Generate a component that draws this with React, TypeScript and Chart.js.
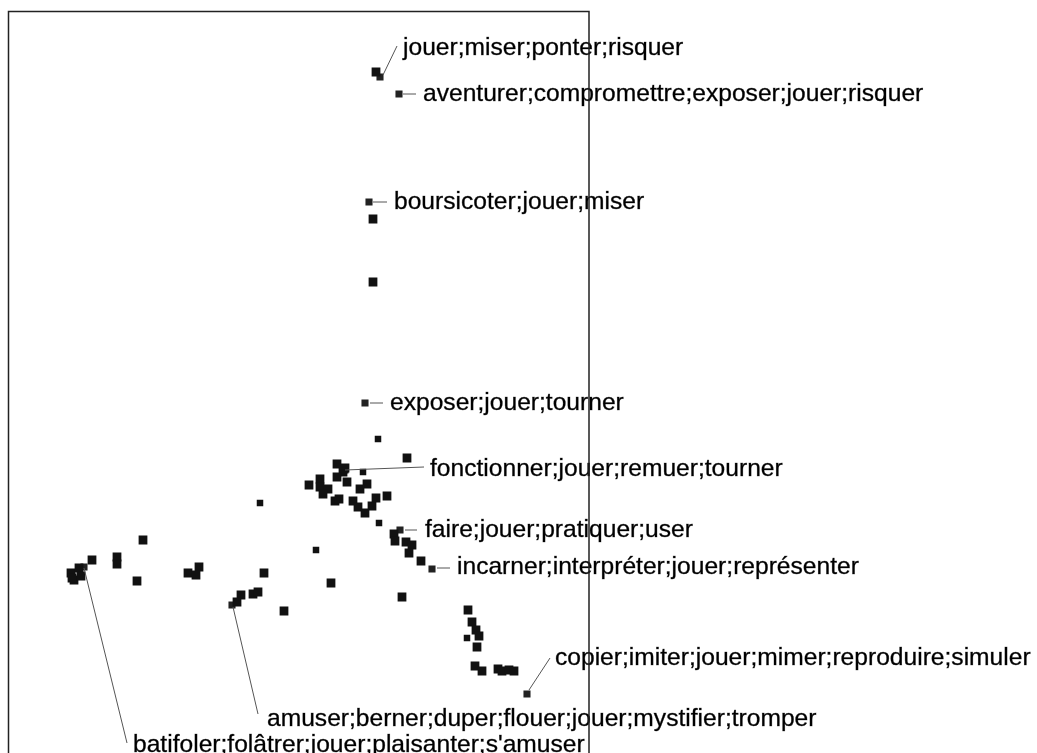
import React, { useEffect, useRef } from "react";
import { Chart, registerables } from "chart.js";

Chart.register(...registerables);

// Factorial map coordinates (axis 1 = x, axis 2 = y)
const pointsX = [
  0.76, 0.73, 0.73, 1.07, 0.37, 0.45, 0.43, 0.37, 0.47, 0.67, 0.6, 0.09, 0.2, 0.2, 0.28, 0.23,
  0.35, 0.39, 0.53, 0.58, 0.65, 0.72, 0.76, 0.87, 0.94, 0.95, 1.06, 1.12, 1.09, 1.21, 1.02,
  -1.57, -2.08, -1.83, -1.83, -1.63, -2.29, -2.26, -2.21, -2.19, -2.28, -1.12, -1.01, -1.04,
  -0.36, 0.31, -0.47, -0.42, -0.59, -0.63, -0.16, 1.68, 1.72, 1.76, 1.79, 1.77, 1.75, 1.82,
  1.98, 2.02, 2.09, 2.14,
];
const pointsY = [
  3.28, 1.81, 1.18, -0.58, -0.64, -0.68, -0.72, -0.77, -0.82, -0.84, -0.89, -0.85, -0.79, -0.87,
  -0.89, -0.94, -1.01, -0.99, -1.01, -1.07, -1.13, -1.06, -0.98, -0.96, -1.34, -1.41, -1.42,
  -1.45, -1.53, -1.61, -1.97, -1.4, -1.6, -1.57, -1.64, -1.81, -1.73, -1.8, -1.68, -1.76, -1.78,
  -1.73, -1.67, -1.75, -1.73, -1.83, -1.94, -1.92, -1.95, -2.02, -2.11, -2.1, -2.22, -2.3,
  -2.36, -2.47, -2.66, -2.71, -2.69, -2.71, -2.7, -2.71,
];

const minorX = [0.78, 0.63, -0.4, 0.16, 1.67, 0.79];
const minorY = [-0.39, -0.72, -1.03, -1.5, -2.38, -1.23];

const labelTexts = [
  "jouer;miser;ponter;risquer",
  "aventurer;compromettre;exposer;jouer;risquer",
  "boursicoter;jouer;miser",
  "exposer;jouer;tourner",
  "fonctionner;jouer;remuer;tourner",
  "faire;jouer;pratiquer;user",
  "incarner;interpréter;jouer;représenter",
  "copier;imiter;jouer;mimer;reproduire;simuler",
  "amuser;berner;duper;flouer;jouer;mystifier;tromper",
  "batifoler;folâtrer;jouer;plaisanter;s'amuser",
];
const labeledX = [0.8, 0.99, 0.69, 0.65, 0.45, 1.0, 1.32, 2.27, -0.68, -2.16];
const labeledY = [3.23, 3.06, 1.98, -0.03, -0.7, -1.3, -1.69, -2.94, -2.05, -1.67];

// label layout (pixel offsets from the point): line start, line end, text start (baseline)
const labelLayout = [
  { ls: [3, -2], le: [17, -31], t: [23, -22] },
  { ls: [4, 0], le: [17, 0], t: [24, 7] },
  { ls: [4, 0], le: [18, 0], t: [25, 7] },
  { ls: [5, 0], le: [18, 0], t: [25, 7] },
  { ls: [0, 0], le: [79, -3], t: [85, 6] },
  { ls: [5, 0], le: [17, 0], t: [25, 7] },
  { ls: [5, -1], le: [18, -1], t: [25, 5] },
  { ls: [2, -4], le: [23, -36], t: [28, -29] },
  { ls: [1, 2], le: [26, 109], t: [35, 121] },
  { ls: [0, 1], le: [43, 176], t: [49, 185] },
];

const toXY = (xs: number[], ys: number[]) => xs.map((x, i) => ({ x, y: ys[i] }));

const labelPlugin = {
  id: "labelsAndFrame",
  afterDatasetsDraw(chart: any) {
    const { ctx, chartArea, scales } = chart;
    const sx = scales.x;
    const sy = scales.y;
    ctx.save();
    ctx.font = '24.6px "Liberation Sans", Arial, sans-serif';
    ctx.textBaseline = "alphabetic";
    ctx.textAlign = "left";
    labelTexts.forEach((txt, i) => {
      const px = sx.getPixelForValue(labeledX[i]);
      const py = sy.getPixelForValue(labeledY[i]);
      const L = labelLayout[i];
      ctx.strokeStyle = "#555";
      ctx.lineWidth = 1;
      ctx.beginPath();
      ctx.moveTo(px + L.ls[0], py + L.ls[1]);
      ctx.lineTo(px + L.le[0], py + L.le[1]);
      ctx.stroke();
      ctx.fillStyle = "#000";
      ctx.fillText(txt, px + L.t[0], py + L.t[1]);
      ctx.strokeStyle = "rgba(0,0,0,0.6)";
      ctx.lineWidth = 0.5;
      ctx.strokeText(txt, px + L.t[0], py + L.t[1]);
    });
    ctx.strokeStyle = "#222";
    ctx.lineWidth = 1.5;
    ctx.beginPath();
    ctx.moveTo(chartArea.left, chartArea.bottom + 5);
    ctx.lineTo(chartArea.left, chartArea.top);
    ctx.lineTo(chartArea.right, chartArea.top);
    ctx.lineTo(chartArea.right, chartArea.bottom + 5);
    ctx.stroke();
    ctx.restore();
  },
};

export default function App() {
  const ref = useRef<HTMLCanvasElement | null>(null);
  useEffect(() => {
    if (!ref.current) return;
    const chart = new Chart(ref.current, {
      type: "scatter",
      data: {
        datasets: [
          {
            data: toXY(pointsX, pointsY),
            pointStyle: "rect",
            pointRadius: 6.2,
            backgroundColor: "#111",
            borderColor: "#111",
            borderWidth: 0,
          },
          {
            data: toXY(minorX, minorY),
            pointStyle: "rect",
            pointRadius: 4.6,
            backgroundColor: "#111",
            borderColor: "#111",
            borderWidth: 0,
          },
          {
            data: toXY(labeledX, labeledY),
            pointStyle: "rect",
            pointRadius: 5,
            backgroundColor: "#222",
            borderColor: "#222",
            borderWidth: 0,
          },
        ],
      },
      options: {
        animation: false,
        responsive: false,
        devicePixelRatio: 1,
        layout: { autoPadding: false, padding: { left: 8.5, top: 11.5, right: 448, bottom: 0 } },
        plugins: { legend: { display: false }, tooltip: { enabled: false } },
        scales: {
          x: { type: "linear", display: false, min: -2.915, max: 2.89 },
          y: { type: "linear", display: false, min: -3.53, max: 3.885 },
        },
      },
      plugins: [labelPlugin],
    });
    return () => chart.destroy();
  }, []);
  return (
    <div style={{ position: "absolute", left: 0, top: 0, width: 1037, height: 753, background: "#fff" }}>
      <canvas ref={ref} width={1037} height={753} style={{ width: 1037, height: 753, display: "block" }} />
    </div>
  );
}
